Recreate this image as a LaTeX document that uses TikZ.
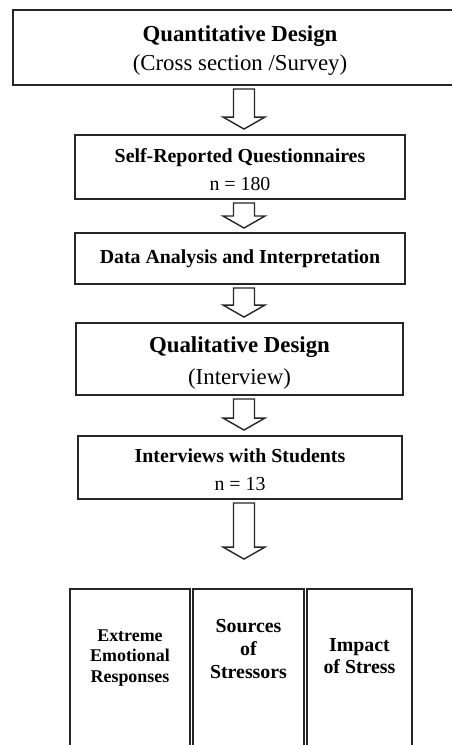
\documentclass[tikz,border=0pt]{standalone}
\usepackage{fontspec}
\setmainfont{Liberation Serif}
\usetikzlibrary{calc}

\begin{document}
\begin{tikzpicture}[
  x=0.02cm, y=-0.02cm,
  box/.style={draw=black!85, line width=1.1pt, align=center, inner sep=0pt},
  bigfont/.style={font=\fontsize{13}{17}\selectfont},
  smallfont/.style={font=\fontsize{11.3}{15.9}\selectfont},
  col/.style={draw=black!85, line width=1.1pt, minimum height=3.42cm, inner sep=0pt},
  coltext/.style={align=center, inner sep=0pt},
  hollow/.style={draw=black!85, line width=0.8pt, fill=white, line join=miter}
]
  \useasboundingbox (0,0) rectangle (452,745);

  % design steps
  \node[box, bigfont, minimum width=9.08cm, minimum height=1.5cm] (q1) at (240,47.5)
    {\rule{0pt}{12.5pt}\textbf{Quantitative Design}\\(Cross section /Survey)};
  \node[box, smallfont, minimum width=6.6cm, minimum height=1.28cm] (q2) at (240,167)
    {\rule{0pt}{10.5pt}\textbf{Self-Reported Questionnaires}\\n = 180};
  \node[box, smallfont, minimum width=6.6cm, minimum height=1.02cm] (q3) at (240,258.5)
    {\textbf{Data Analysis and Interpretation}};
  \node[box, font=\fontsize{13}{18.1}\selectfont, minimum width=6.54cm, minimum height=1.44cm] (q4) at (239.5,359)
    {\rule{0pt}{13.5pt}\textbf{Qualitative Design}\\(Interview)};
  \node[box, smallfont, minimum width=6.48cm, minimum height=1.26cm] (q5) at (240,467.5)
    {\rule{0pt}{10.5pt}\textbf{Interviews with Students}\\n = 13};

  % themes
  \node[col, minimum width=2.4cm]  (emo) at (130,674.5) {};
  \node[col, minimum width=2.22cm] (src) at (248.5,674.5) {};
  \node[col, minimum width=2.1cm]  (imp) at (359.5,674.5) {};
  \node[coltext, font=\bfseries\fontsize{10.2}{11.9}\selectfont] (emotxt) at (130,658)
    {Extreme\\Emotional\\Responses};
  \node[coltext, font=\bfseries\fontsize{11.3}{13}\selectfont] (srctxt) at (248.5,649)
    {Sources\\of\\Stressors};
  \node[coltext, font=\bfseries\fontsize{11.3}{12.5}\selectfont] (imptxt) at (359.5,656)
    {Impact\\of Stress};

  % hollow block arrows
  \coordinate (axis) at (244,0);
  \foreach \a/\b/\g in {q1/q2/5, q2/q3/4, q3/q4/5, q4/q5/5, q5/src/29}
    \draw[hollow] ($(\a.south -| axis)+(-10.5,3)$)
      -- ($(\b.north -| axis)+(-10.5,{-\g-12})$)
      -- ($(\b.north -| axis)+(-21,{-\g-12})$)
      -- ($(\b.north -| axis)+(0,-\g)$)
      -- ($(\b.north -| axis)+(21,{-\g-12})$)
      -- ($(\b.north -| axis)+(10.5,{-\g-12})$)
      -- ($(\a.south -| axis)+(10.5,3)$) -- cycle;
\end{tikzpicture}
\end{document}
